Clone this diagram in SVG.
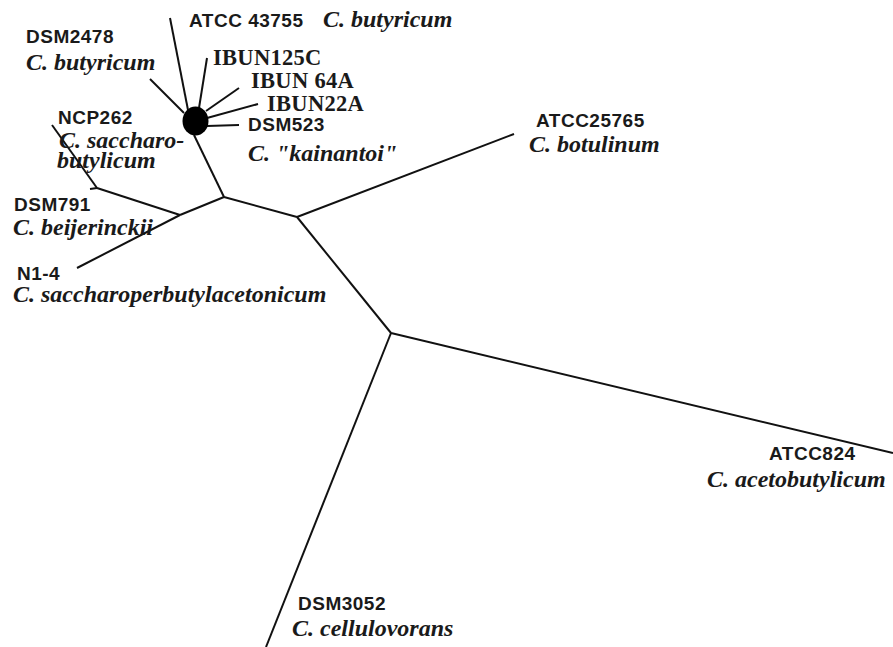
<svg xmlns="http://www.w3.org/2000/svg" width="893" height="647" viewBox="0 0 893 647">
<style>
.e{stroke:#111;stroke-width:2;fill:none;stroke-linecap:butt}
.s{font-family:"Liberation Sans",Arial,sans-serif;font-weight:bold;font-size:19px;letter-spacing:0.5px;fill:#1a1a1a}
.i{font-family:"Liberation Serif","Times New Roman",serif;font-weight:bold;font-style:italic;font-size:24px;fill:#1a1a1a}
.r{font-family:"Liberation Serif","Times New Roman",serif;font-weight:bold;font-size:22.5px;letter-spacing:0.3px;fill:#1a1a1a}
</style>
<rect width="893" height="647" fill="#fff"/>
<g id="connectors">
<line class="e" x1="170" y1="18" x2="188" y2="110"/>
<line class="e" x1="150" y1="79" x2="184" y2="113"/>
<line class="e" x1="207" y1="58" x2="199" y2="108"/>
<line class="e" x1="239" y1="88" x2="206" y2="111"/>
<line class="e" x1="258" y1="104" x2="207" y2="118"/>
<line class="e" x1="239" y1="125" x2="207" y2="126"/>
<line class="e" x1="194" y1="135" x2="224" y2="197"/>
<line class="e" x1="224" y1="197" x2="180" y2="215"/>
<line class="e" x1="180" y1="215" x2="97" y2="188"/>
<line class="e" x1="180" y1="215" x2="77" y2="268"/>
<line class="e" x1="52" y1="125" x2="97" y2="188"/>
<line class="e" x1="90" y1="189" x2="97" y2="188"/>
<line class="e" x1="224" y1="197" x2="297" y2="217"/>
<line class="e" x1="297" y1="217" x2="514" y2="134"/>
<line class="e" x1="297" y1="217" x2="391" y2="333"/>
<line class="e" x1="391" y1="333" x2="893" y2="453"/>
<line class="e" x1="391" y1="333" x2="266" y2="647"/>
</g>
<g id="cluster">
<ellipse cx="195.5" cy="121" rx="13" ry="14.5" fill="#000"/>
</g>
<g id="atcc43755"><text class="s" x="189" y="27">ATCC 43755</text><text class="i" x="323" y="27">C. butyricum</text></g>
<g id="dsm2478"><text class="s" x="26" y="43">DSM2478</text><text class="i" x="26" y="70">C. butyricum</text></g>
<g id="ibun125c"><text class="r" x="213" y="65">IBUN125C</text></g>
<g id="ibun64a"><text class="r" x="251" y="88">IBUN 64A</text></g>
<g id="ibun22a"><text class="r" x="267" y="111">IBUN22A</text></g>
<g id="dsm523"><text class="s" x="248" y="131">DSM523</text><text class="i" x="248" y="161">C. "kainantoi"</text></g>
<g id="ncp262"><text class="s" x="58" y="124">NCP262</text><text class="i" x="59" y="148">C. saccharo-</text><text class="i" x="57" y="168">butylicum</text></g>
<g id="dsm791"><text class="s" x="14" y="211">DSM791</text><text class="i" x="13" y="235">C. beijerinckii</text></g>
<g id="n1-4"><text class="s" x="17" y="280">N1-4</text><text class="i" x="13" y="302">C. saccharoperbutylacetonicum</text></g>
<g id="atcc25765"><text class="s" x="536" y="127">ATCC25765</text><text class="i" x="529" y="152">C. botulinum</text></g>
<g id="atcc824"><text class="s" x="769" y="460">ATCC824</text><text class="i" x="707" y="487">C. acetobutylicum</text></g>
<g id="dsm3052"><text class="s" x="298" y="610">DSM3052</text><text class="i" x="292" y="636">C. cellulovorans</text></g>
</svg>
